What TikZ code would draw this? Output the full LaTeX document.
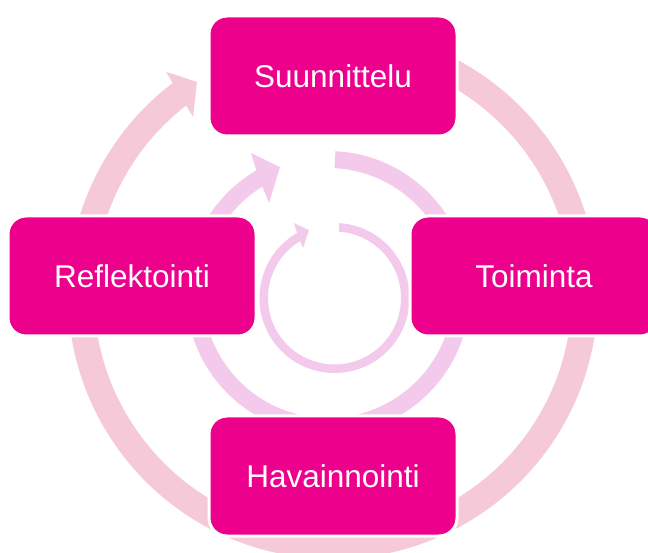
\documentclass[tikz,border=0pt]{standalone}
\usepackage{fontspec}
\setmainfont{Liberation Sans}
\definecolor{boxmag}{RGB}{236,0,140}
\definecolor{ringpink}{RGB}{246,201,217}
\definecolor{ringlav}{RGB}{243,202,235}
\tikzset{
  stagebox/.style={draw=white, line width=3pt, fill=boxmag, rounded corners=18pt,
    minimum width=248pt, minimum height=120pt, inner sep=0pt, text=white,
    font=\fontsize{31.5}{38}\selectfont},
}
\begin{document}
\begin{tikzpicture}[x=1pt,y=1pt]
\useasboundingbox (0,0) rectangle (648,552);
\fill[white] (0,0) rectangle (648,552);
% outer ring, centre (333,258)
\begin{scope}[shift={(333,258)}]
\fill[ringpink] (80:265) arc[start angle=80, end angle=-232.76, radius=265]
  -- (126.9:277.8) -- (122.7:252) -- (128.3:225.7) -- (-232.06:239)
  arc[start angle=-232.06, end angle=80, radius=239] -- cycle;
\end{scope}
% middle ring, centre (328,259)
\begin{scope}[shift={(328,259)}]
\fill[ringlav] (87:142) arc[start angle=87, end angle=-239.7, radius=142]
  -- (118.8:159.8) -- (110.9:134.8) -- (123.2:107.6) -- (-238.3:125)
  arc[start angle=-238.3, end angle=87, radius=125] -- cycle;
\end{scope}
% inner ring, centre (334.5,254)
\begin{scope}[shift={(334.5,254)}]
\fill[ringlav] (86.3:75) arc[start angle=86.3, end angle=-240.1, radius=75]
  -- (118.4:85.2) -- (110.6:72.6) -- (122.2:59.1) -- (-238.9:66.5)
  arc[start angle=-238.9, end angle=86.3, radius=66.5] -- cycle;
\end{scope}
% boxes
\node[stagebox] (suun) at (333,476) {Suunnittelu};
\node[stagebox] (toim) at (534,276) {Toiminta};
\node[stagebox] (hava) at (333,76) {Havainnointi};
\node[stagebox] (refl) at (132,276) {Reflektointi};
\end{tikzpicture}
\end{document}
